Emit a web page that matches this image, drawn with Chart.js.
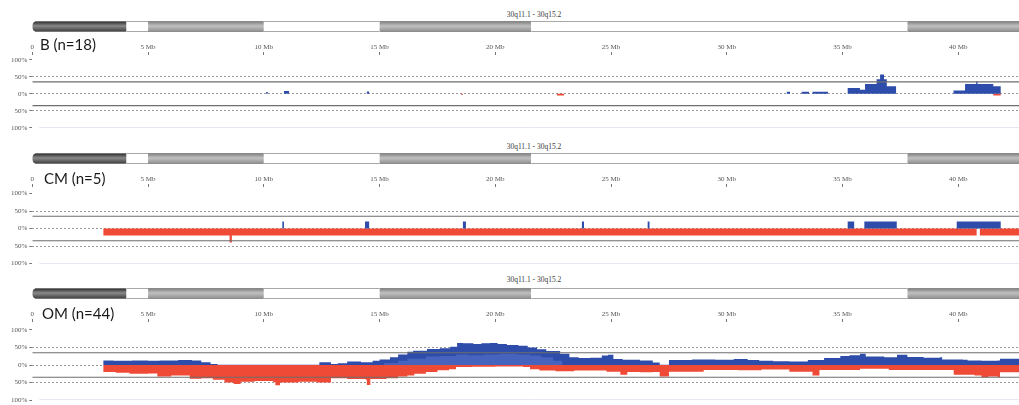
<!DOCTYPE html>
<html>
<head>
<meta charset="utf-8">
<script src="https://cdn.jsdelivr.net/npm/chart.js@4.4.1/dist/chart.umd.min.js"></script>
<style>
  body { margin: 0; background: #fff; width: 1019px; height: 405px; overflow: hidden; position: relative; }
  canvas { position: absolute; left: 0; }
  .name { position: absolute; font: 15px Lato, "Liberation Sans", sans-serif; color: #1a1a1a; white-space: nowrap; }
  .region { position: absolute; font: 7.5px "Liberation Serif", serif; color: #3a3a3a; white-space: nowrap; transform: translateX(-50%); }
</style>
</head>
<body>
<script>
// x axis (Mb) and y axis (%)
const X_MAX = 42.62;
const mbTicks = [0, 5, 10, 15, 20, 25, 30, 35, 40];
const pctTicks = [100, 50, 0, -50, -100];
const thresholds = [35, -35];
const regionName = "30q11.1 - 30q15.2";

// chromosome bands: start, end (Mb), shade
const bandStart = [0, 4.07, 5.0, 10.0, 15.0, 21.55, 37.8];
const bandEnd = [4.07, 5.0, 10.0, 15.0, 21.55, 37.8, X_MAX];
const bandShade = ["dark", "white", "gray", "white", "gray", "white", "gray"];

// B (n=18): [Mb, %] step profiles
const bGain = [[0, 0], [10.1, 5], [10.17, 0], [10.87, 8], [11.09, 0], [14.45, 7], [14.55, 0],
  [32.59, 6], [32.73, 0], [33.23, 6], [33.55, 0], [33.7, 6], [34.37, 0],
  [35.22, 17], [35.75, 12], [35.97, 29], [36.47, 43], [36.62, 57], [36.79, 43], [36.91, 22], [37.31, 0],
  [39.79, 10], [40.29, 29], [40.77, 37], [40.83, 29], [41.51, 22], [41.83, 0], [X_MAX, 0]];
const bLoss = [[0, 0], [18.52, -3], [18.6, 0], [22.66, -5], [22.97, 0], [41.51, -5], [41.83, 0], [X_MAX, 0]];

// CM (n=5)
const cmGain = [[0, 0], [10.8, 20], [10.87, 0], [14.37, 20], [14.55, 0], [18.6, 20], [18.73, 0],
  [23.74, 20], [23.83, 0], [26.58, 20], [26.66, 0], [35.22, 20], [35.5, 0], [35.94, 20], [37.34, 0],
  [39.93, 20], [41.83, 0], [X_MAX, 0]];
const cmLoss = [[0, 0], [3.07, -20], [8.52, -40], [8.62, -20], [40.79, 0], [40.93, -20], [X_MAX, -20]];

// OM (n=44)
const omGain = [[0, 0], [3.07, 13], [3.5, 12], [4.3, 13], [5.0, 12], [5.5, 13], [6.3, 14], [6.9, 13],
  [7.3, 8], [7.7, 3], [8.0, 1], [12.2, 1], [12.4, 8], [12.9, 3], [13.2, 5], [13.6, 10], [14.2, 8], [14.7, 12],
  [15.0, 16], [15.45, 22], [15.8, 30], [16.2, 38], [16.45, 41], [17.05, 46], [17.6, 48], [18.05, 52], [18.35, 63],
  [18.6, 62], [19.05, 60], [19.4, 62], [19.77, 63], [20.1, 60], [20.5, 57], [21.0, 55], [21.4, 50], [21.8, 45],
  [22.2, 40], [22.8, 32], [23.2, 22], [23.6, 20], [24.1, 21], [24.6, 27], [24.87, 29], [25.1, 17], [25.5, 15],
  [26.25, 13], [26.8, 7], [27.1, 1], [27.5, 14], [28.5, 16], [29.5, 15], [30.3, 17], [30.9, 14], [31.4, 12],
  [32.0, 11], [32.7, 10], [33.5, 14], [34.2, 20], [34.9, 26], [35.3, 28], [35.75, 32], [36.0, 24], [36.8, 22],
  [37.35, 29], [37.8, 23], [38.5, 21], [39.2, 22], [39.3, 16], [40.2, 15], [40.4, 13], [41.0, 12], [41.7, 13],
  [41.8, 18], [X_MAX, 18]];
const omGainCore = [[14.5, 0], [15.2, 6], [15.8, 12], [16.2, 18], [17.0, 24], [17.6, 26], [18.3, 30], [18.8, 28],
  [19.5, 30], [20.2, 32], [20.9, 30], [21.5, 27], [22.0, 22], [22.5, 12], [22.9, 0]];
const omLoss = [[0, 0], [3.07, -20], [3.6, -22], [4.2, -25], [5.0, -24], [5.4, -33], [6.0, -30],
  [6.8, -39], [7.3, -38], [7.8, -42], [8.3, -50], [8.7, -54], [9.0, -48], [9.6, -46], [10.4, -49], [10.5, -58],
  [10.7, -50], [11.5, -48], [12.3, -50], [12.9, -38], [13.6, -40], [14.4, -42], [14.45, -57], [14.6, -40],
  [15.3, -38], [15.8, -33], [16.2, -30], [16.5, -25], [17.0, -20], [17.5, -15], [18.0, -12], [18.3, -6],
  [19.0, -5], [20.0, -4], [21.2, -6], [21.5, -12], [21.9, -16], [22.6, -18], [23.4, -16], [24.8, -19],
  [25.4, -28], [25.7, -20], [26.25, -21], [26.8, -20], [27.1, -33], [27.5, -19], [29.0, -14], [30.5, -15],
  [31.5, -13], [32.7, -19], [33.7, -30], [34.0, -14], [35.75, -11], [37.0, -14], [39.8, -28], [40.7, -30],
  [41.0, -35], [41.3, -33], [41.7, -35], [41.8, -21], [X_MAX, -21]];

const BLUE = "#2e4ca9";
const BLUE_CORE = "#4663bd";
const RED = "#ef4a36";
const NONE = "rgba(0,0,0,0)";
const AXIS_H = 15;
const LEFT = 32.3;

const panels = [
  { name: "B (n=18)", ideoTop: 20.5, zero: 93.3, half: 17, titleY: 10, nameX: 40, nameY: 35,
    gain: bGain, loss: bLoss },
  { name: "CM (n=5)", ideoTop: 152.5, zero: 228, half: 17.5, titleY: 142, nameX: 44, nameY: 169,
    gain: cmGain, loss: cmLoss },
  { name: "OM (n=44)", ideoTop: 287.5, zero: 364.5, half: 17.5, titleY: 275, nameX: 42, nameY: 304,
    gain: omGain, core: omGainCore, loss: omLoss },
];

function makeCanvas(top, h) {
  const c = document.createElement("canvas");
  c.width = 1019;
  c.height = h;
  c.style.top = top + "px";
  document.body.appendChild(c);
  return c;
}

function addText(cls, text, x, y) {
  const d = document.createElement("div");
  d.className = cls;
  d.textContent = text;
  d.style.left = x + "px";
  d.style.top = y + "px";
  document.body.appendChild(d);
}

function shadeFill(chart, shade) {
  const a = chart.chartArea;
  if (shade === "white") return "#ffffff";
  if (!a) return "#999";
  const g = chart.ctx.createLinearGradient(0, a.top, 0, a.bottom);
  const s = shade === "dark" ? ["#222222", "#8a8a8a", "#383838"] : ["#7a7a7a", "#c0c0c0", "#8c8c8c"];
  g.addColorStop(0, s[0]);
  g.addColorStop(0.45, s[1]);
  g.addColorStop(1, s[2]);
  return g;
}

const pts = (arr) => arr.map(([x, y]) => ({ x, y }));
const tickFont = { family: "Liberation Serif", size: 7 };

function areaSet(data, color) {
  return { type: "line", data: pts(data), backgroundColor: color, borderColor: NONE, borderWidth: 0,
    pointRadius: 0, fill: "origin", stepped: true };
}

panels.forEach((p) => {
  // chromosome ideogram
  new Chart(makeCanvas(p.ideoTop - 1, 13), {
    type: "bar",
    data: {
      labels: ["chr30"],
      datasets: [{
        data: bandStart.map((s, i) => ({ x: [s, bandEnd[i]], y: "chr30" })),
        backgroundColor: (c) => shadeFill(c.chart, bandShade[c.dataIndex]),
        borderColor: "#8a8a8a",
        borderWidth: { top: 1, bottom: 1, left: 0, right: 0 },
        borderSkipped: false,
        borderRadius: (c) => (c.dataIndex === 0 ? { topLeft: 5, bottomLeft: 5, topRight: 0, bottomRight: 0 } : 0),
        barPercentage: 1,
        categoryPercentage: 1,
      }],
    },
    options: {
      indexAxis: "y",
      responsive: false,
      animation: false,
      layout: { padding: { left: LEFT, right: 0, top: 1, bottom: 1 } },
      plugins: { legend: { display: false }, tooltip: { enabled: false } },
      scales: {
        x: { type: "linear", min: 0, max: X_MAX, display: false },
        y: { display: false },
      },
    },
  });

  // frequency plot
  const canvasTop = p.ideoTop + 19;
  const areaTop = canvasTop + AXIS_H;
  const bottom = p.zero + 2 * p.half;
  const h = Math.round(bottom - canvasTop) + 7;
  const yMax = ((p.zero - areaTop) / p.half) * 50;

  const datasets = thresholds.map((t) => ({
    type: "line",
    data: [{ x: 0, y: t }, { x: X_MAX, y: t }],
    borderColor: "#6e6e6e",
    borderWidth: 1.2,
    pointRadius: 0,
    fill: false,
  }));
  if (p.core) datasets.push(areaSet(p.core, BLUE_CORE));
  datasets.push(areaSet(p.gain, BLUE));
  datasets.push(areaSet(p.loss, RED));
  datasets.push({ type: "line", data: [{ x: 0.3, y: -100 }, { x: X_MAX, y: -100 }], borderColor: "#cfd2ec",
    borderWidth: 1, pointRadius: 0, fill: false });

  new Chart(makeCanvas(canvasTop, h), {
    type: "line",
    data: { datasets },
    options: {
      responsive: false,
      animation: false,
      layout: { padding: { left: 0, right: 0, top: 0, bottom: h - (bottom - canvasTop) } },
      plugins: { legend: { display: false }, tooltip: { enabled: false } },
      scales: {
        x: {
          type: "linear",
          position: "top",
          min: 0,
          max: X_MAX,
          afterBuildTicks: (s) => { s.ticks = mbTicks.map((v) => ({ value: v })); },
          afterFit: (s) => { s.height = AXIS_H; },
          ticks: { font: tickFont, color: "#555", padding: 1, maxRotation: 0, autoSkip: false,
            callback: (v) => (v === 0 ? "0" : v + " Mb") },
          grid: { drawOnChartArea: false, drawTicks: true, tickLength: 3, tickColor: "#777" },
          border: { display: false },
        },
        y: {
          min: -100,
          max: yMax,
          afterBuildTicks: (s) => { s.ticks = pctTicks.map((v) => ({ value: v })); },
          afterFit: (s) => { s.width = LEFT; },
          ticks: { font: tickFont, color: "#555", padding: 2, callback: (v) => Math.abs(v) + "%" },
          grid: {
            color: (c) => (c.tick && Math.abs(c.tick.value) === 100 ? NONE : "#9a9a9a"),
            tickColor: "#777",
            tickLength: 3,
            lineWidth: 1,
          },
          border: { display: false, dash: [2, 2] },
        },
      },
    },
  });

  addText("region", regionName, 534, p.titleY);
  addText("name", p.name, p.nameX, p.nameY);
});
</script>
</body>
</html>
